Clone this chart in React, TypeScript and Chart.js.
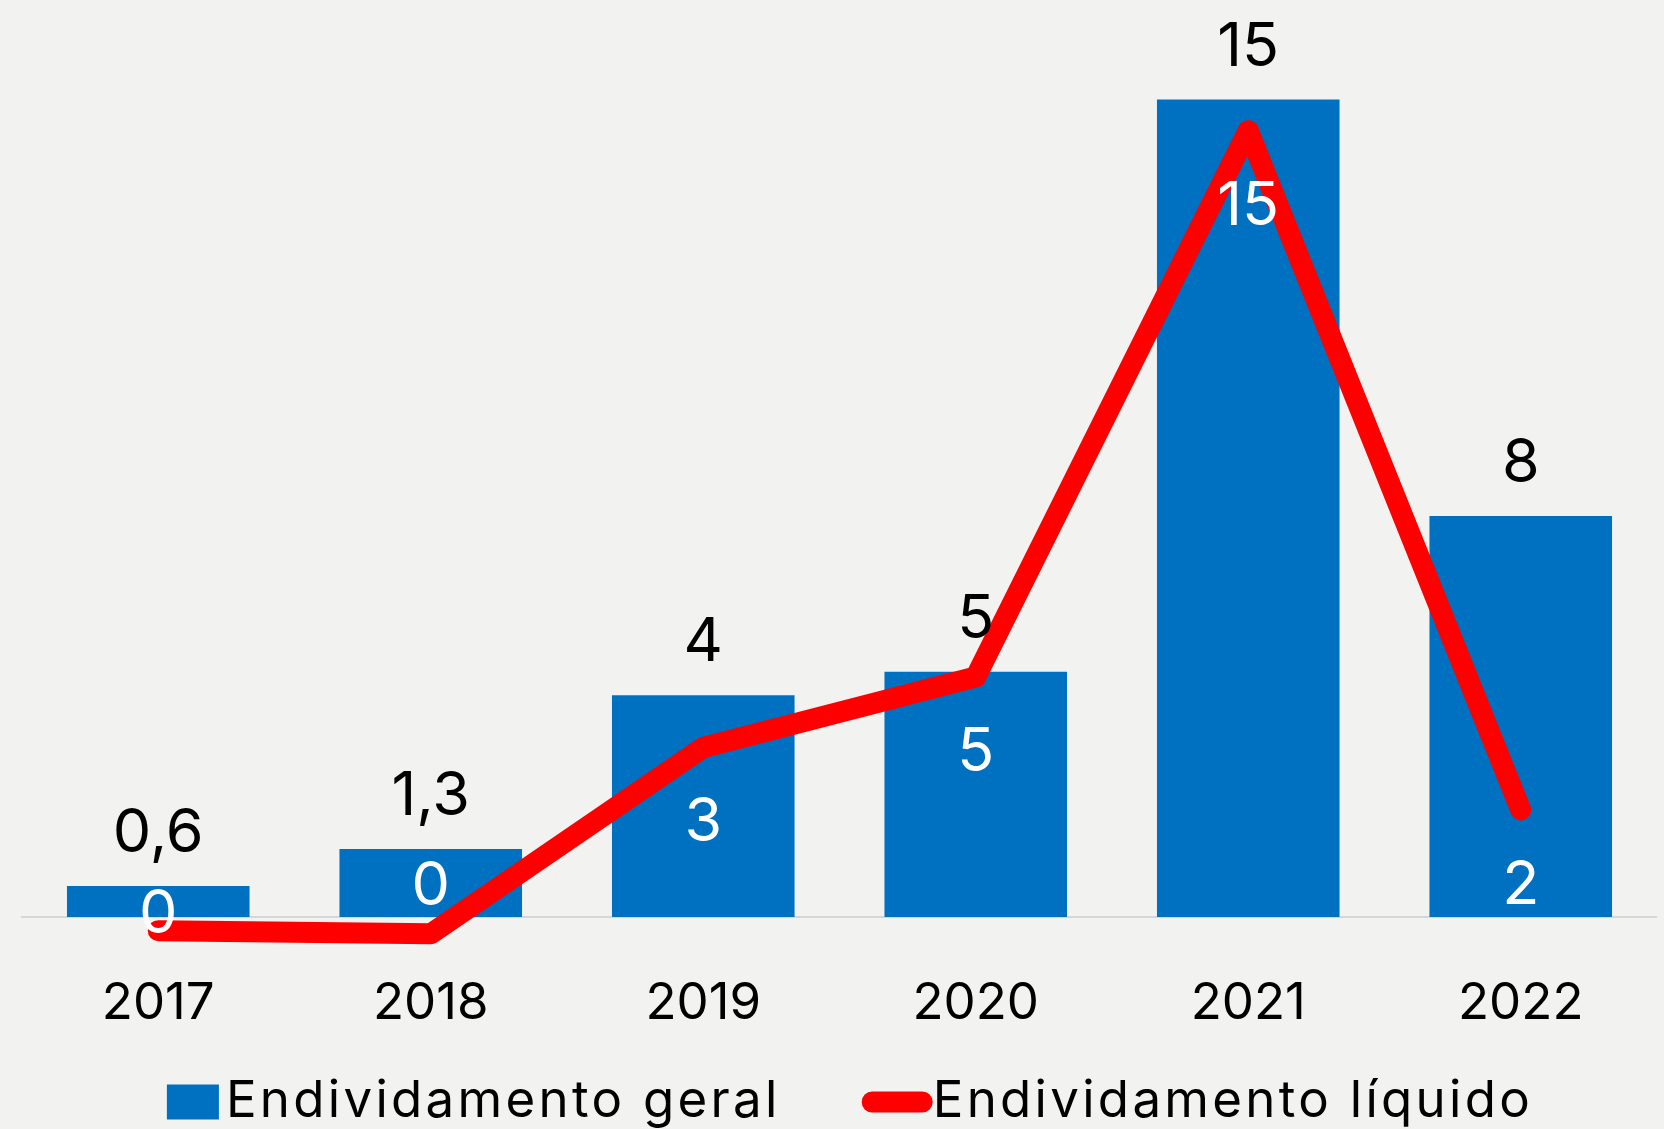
import React, { useEffect, useRef } from 'react';
import { Chart, registerables } from 'chart.js';

Chart.register(...registerables);

// ---- data ----
const categories = ['2017', '2018', '2019', '2020', '2021', '2022'];
const seriesNames = ['Endividamento geral', 'Endividamento líquido'];
const geralValues = [0.57, 1.25, 4.07, 4.5, 15, 7.36];
const geralLabels = ['0,6', '1,3', '4', '5', '15', '8'];
const liquidoValues = [0.02, -0.04, 3.45, 4.77, 15, 2.28];
const liquidoLabels = ['0', '0', '3', '5', '15', '2'];

// ---- style ----
const FONT = 'Inter, "Noto Sans", sans-serif';
const BG = '#f2f2f0';
const BLUE = '#0070C0';
const RED = '#FF0000';

const zeroLinePlugin = {
  id: 'zeroLine',
  beforeDatasetsDraw(chart: any) {
    const { ctx, chartArea } = chart;
    const y = chart.scales.y.getPixelForValue(0);
    ctx.save();
    ctx.strokeStyle = '#d6d6d6';
    ctx.lineWidth = 2;
    ctx.beginPath();
    ctx.moveTo(chartArea.left - 1, y);
    ctx.lineTo(chartArea.right, y);
    ctx.stroke();
    ctx.restore();
  },
};

const dataLabelPlugin = {
  id: 'dataLabels',
  afterDatasetsDraw(chart: any) {
    const { ctx } = chart;
    const barMeta = chart.getDatasetMeta(0);
    const lineMeta = chart.getDatasetMeta(1);
    const zeroPx = chart.scales.y.getPixelForValue(0);
    ctx.save();
    ctx.font = `61px ${FONT}`;
    ctx.textAlign = 'center';
    ctx.textBaseline = 'alphabetic';
    const half = 22;
    barMeta.data.forEach((el: any, i: number) => {
      ctx.fillStyle = '#000';
      ctx.fillText(geralLabels[i], el.x, el.y - 56 + half);
    });
    lineMeta.data.forEach((pt: any, i: number) => {
      const bar = barMeta.data[i];
      let cy = pt.y + 72;
      if (cy + 30 > zeroPx) cy = Math.max((bar.y + zeroPx) / 2, Math.min(zeroPx - 6, bar.y + 26));
      ctx.fillStyle = '#fff';
      ctx.fillText(liquidoLabels[i], pt.x, cy + half);
    });
    ctx.restore();
  },
};

const legendPlugin = {
  id: 'customLegend',
  afterDraw(chart: any) {
    const { ctx } = chart;
    ctx.save();
    ctx.font = `51px ${FONT}`;
    (ctx as any).letterSpacing = '3.3px';
    const w1 = ctx.measureText(seriesNames[0]).width;
    const w2 = ctx.measureText(seriesNames[1]).width;
    const box = 52;
    const boxH = 35;
    const lw = 21;
    const core = 50;
    const gap = 7;
    const itemGap = 81;
    const total = box + gap + w1 + itemGap + (core + lw) + w2;
    let x = chart.width / 2 + 18 - total / 2;
    const cy = chart.height - 27;
    const baseY = chart.height - 12;
    ctx.fillStyle = BLUE;
    ctx.fillRect(x, cy - boxH / 2, box, boxH);
    ctx.fillStyle = '#000';
    ctx.textAlign = 'left';
    ctx.textBaseline = 'alphabetic';
    ctx.fillText(seriesNames[0], x + box + gap, baseY);
    x += box + gap + w1 + itemGap;
    ctx.strokeStyle = RED;
    ctx.lineWidth = lw;
    ctx.lineCap = 'round';
    ctx.beginPath();
    ctx.moveTo(x + lw / 2, cy);
    ctx.lineTo(x + lw / 2 + core, cy);
    ctx.stroke();
    ctx.fillStyle = '#000';
    ctx.fillText(seriesNames[1], x + core + lw, baseY);
    ctx.restore();
  },
};

export default function App() {
  const ref = useRef<HTMLCanvasElement>(null);
  useEffect(() => {
    document.body.style.margin = '0';
    document.body.style.background = BG;
    const chart = new Chart(ref.current as HTMLCanvasElement, {
      type: 'bar',
      data: {
        labels: categories,
        datasets: [
          {
            type: 'bar',
            label: seriesNames[0],
            data: geralValues,
            backgroundColor: BLUE,
            yAxisID: 'y',
            order: 2,
            categoryPercentage: 1,
            barPercentage: 0.67,
          } as any,
          {
            type: 'line',
            label: seriesNames[1],
            data: liquidoValues,
            borderColor: RED,
            backgroundColor: RED,
            borderWidth: 21,
            borderCapStyle: 'round',
            borderJoinStyle: 'round',
            pointRadius: 0,
            pointHoverRadius: 0,
            tension: 0,
            yAxisID: 'y1',
            order: 1,
            clip: false,
          } as any,
        ],
      },
      options: {
        animation: false,
        responsive: false,
        events: [],
        layout: { autoPadding: false, padding: { left: 22, right: 7, top: 0, bottom: 79.8 } },
        plugins: {
          legend: { display: false },
          tooltip: { enabled: false },
        },
        scales: {
          x: {
            grid: { display: false, drawTicks: false },
            border: { display: false },
            ticks: {
              color: '#000',
              font: { size: 51, family: FONT, lineHeight: 1.2 },
              padding: 15,
              maxRotation: 0,
              autoSkip: false,
            },
          },
          y: { display: false, min: -0.752, max: 16.826 },
          y1: { display: false, min: -0.4925, max: 17.447, position: 'right' },
        },
      },
      plugins: [zeroLinePlugin, dataLabelPlugin, legendPlugin],
    });
    return () => chart.destroy();
  }, []);
  return (
    <div style={{ width: 1664, height: 1129, background: BG }}>
      <canvas ref={ref} width={1664} height={1129} style={{ display: 'block' }} />
    </div>
  );
}
